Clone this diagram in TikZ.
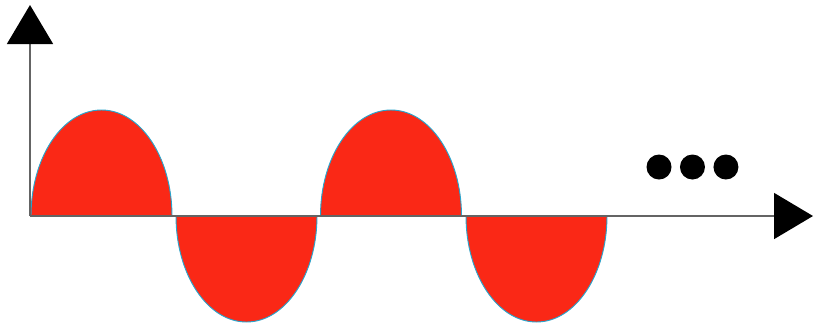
\documentclass[tikz,border=0pt]{standalone}
\definecolor{wavered}{RGB}{250, 40, 22}
\definecolor{edgeblue}{RGB}{40, 165, 205}
\definecolor{axisgray}{RGB}{100, 100, 100}
\usepackage{tikz}
\usetikzlibrary{arrows.meta, positioning}
\tikzset{
  axisline/.style={axisgray, line width=1.4pt, -{Triangle[length=1.17cm, width=1.38cm, color=black]}},
  hump/.style={fill=wavered, draw=none},
  humpedge/.style={draw=edgeblue, line width=0.8pt},
  dotnode/.style={circle, fill=black, minimum size=0.75cm, inner sep=0pt},
}

\begin{document}
\begin{tikzpicture}[x=0.03cm, y=-0.03cm]
  \useasboundingbox (0,0) rectangle (814,326);
  \coordinate (o) at (30,216);
  \coordinate (ytop) at (30,5);
  \coordinate (xend) at (813,216);
  % half waves
  \foreach \cx/\sa/\ea in {101.5/180/360, 246.5/180/0, 391/180/360, 536.5/180/0} {
    \fill[hump] (\cx-70.5,216) arc[start angle=\sa, end angle=\ea, x radius=70.5, y radius=106] -- cycle;
    \draw[humpedge] (\cx-70.5,216) arc[start angle=\sa, end angle=\ea, x radius=70.5, y radius=106];
  }
  % axes
  \draw[axisline] (o) -- (ytop);
  \draw[axisline] (o) -- (xend);
  % dots
  \node[dotnode] (d1) at (659,167) {};
  \node[dotnode, right=0.24cm of d1] (d2) {};
  \node[dotnode, right=0.24cm of d2] (d3) {};
\end{tikzpicture}
\end{document}
